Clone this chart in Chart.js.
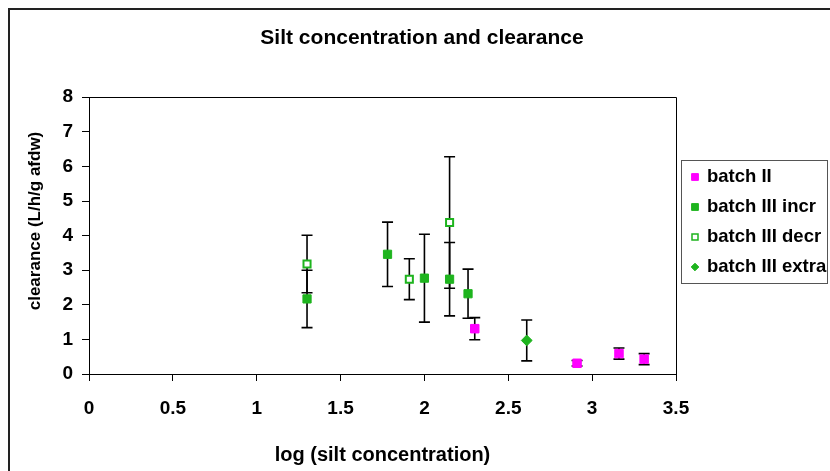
<!DOCTYPE html>
<html><head><meta charset="utf-8">
<script src="https://cdn.jsdelivr.net/npm/chart.js@4"></script>
<style>html,body{margin:0;padding:0;background:#fff;overflow:hidden}canvas{display:block}</style>
</head><body>
<canvas id="c" width="830" height="471"></canvas>
<script>
const chartTitle = 'Silt concentration and clearance';
const xAxisTitle = 'log (silt concentration)';
const yAxisTitle = 'clearance (L/h/g afdw)';
const seriesNames = ['batch II', 'batch III incr', 'batch III decr', 'batch III extra'];
const xTickLabels = ['0', '0.5', '1', '1.5', '2', '2.5', '3', '3.5'];
const yTickLabels = ['0', '1', '2', '3', '4', '5', '6', '7', '8'];

const batchII_x   = [2.30, 2.91, 3.16, 3.31];
const batchII_y   = [1.31, 0.31, 0.59, 0.43];
const batchII_err = [0.32, 0.08, 0.16, 0.16];

const incr_x   = [1.30, 1.78, 2.00, 2.15, 2.26];
const incr_y   = [2.17, 3.46, 2.77, 2.74, 2.32];
const incr_err = [0.83, 0.93, 1.27, 1.06, 0.71];

const decr_x   = [1.30, 1.91, 2.15];
const decr_y   = [3.18, 2.74, 4.38];
const decr_err = [0.83, 0.59, 1.90];

const extra_x   = [2.61];
const extra_y   = [0.97];
const extra_err = [0.59];

const MAGENTA = '#ff00ff';
const GREEN = '#1eb41e';
const FONT = "'Liberation Sans', Arial, sans-serif";

function pts(xs, ys, es) { return xs.map((x, i) => ({x: x, y: ys[i], err: es[i]})); }

const errorBars = {
  id: 'errorBars',
  beforeDatasetsDraw(chart) {
    const ctx = chart.ctx, xs = chart.scales.x, ys = chart.scales.y;
    ctx.save();
    ctx.strokeStyle = '#000';
    ctx.lineWidth = 1.6;
    chart.data.datasets.forEach(ds => {
      ds.data.forEach(p => {
        const px = xs.getPixelForValue(p.x);
        const t = ys.getPixelForValue(p.y + p.err);
        const b = ys.getPixelForValue(p.y - p.err);
        ctx.beginPath();
        ctx.moveTo(px, t); ctx.lineTo(px, b);
        ctx.moveTo(px - 5.5, t); ctx.lineTo(px + 5.5, t);
        ctx.moveTo(px - 5.5, b); ctx.lineTo(px + 5.5, b);
        ctx.stroke();
      });
    });
    ctx.restore();
  }
};

const background = {
  id: 'background',
  beforeDraw(chart) {
    const ctx = chart.ctx;
    ctx.save();
    ctx.fillStyle = '#fff';
    ctx.fillRect(0, 0, chart.width, chart.height);
    ctx.strokeStyle = '#222';
    ctx.lineWidth = 2;
    ctx.beginPath();
    ctx.moveTo(9, chart.height); ctx.lineTo(9, 9); ctx.lineTo(chart.width, 9);
    ctx.stroke();
    ctx.restore();
  }
};

function marker(ctx, style, x, y, r, fill, stroke, bw) {
  ctx.beginPath();
  if (style === 'rectRot') {
    ctx.moveTo(x, y - r); ctx.lineTo(x + r, y); ctx.lineTo(x, y + r); ctx.lineTo(x - r, y); ctx.closePath();
  } else {
    ctx.rect(x - r, y - r, 2 * r, 2 * r);
  }
  ctx.fillStyle = fill; ctx.fill();
  ctx.lineWidth = bw; ctx.strokeStyle = stroke; ctx.stroke();
}

const decorations = {
  id: 'decorations',
  afterDraw(chart) {
    const ctx = chart.ctx, a = chart.chartArea;
    ctx.save();
    // plot area frame (top & right)
    ctx.strokeStyle = '#000'; ctx.lineWidth = 1;
    ctx.beginPath();
    ctx.moveTo(Math.round(a.left) + 0.5, Math.round(a.top) + 0.5);
    ctx.lineTo(Math.round(a.right) + 0.5, Math.round(a.top) + 0.5);
    ctx.lineTo(Math.round(a.right) + 0.5, Math.round(a.bottom) + 0.5);
    ctx.stroke();
    // y axis title
    ctx.save();
    ctx.translate(35.5, 221);
    ctx.rotate(-Math.PI / 2);
    ctx.fillStyle = '#000';
    ctx.font = 'bold 17px ' + FONT;
    ctx.textAlign = 'center'; ctx.textBaseline = 'middle';
    ctx.fillText(yAxisTitle, 0, 0);
    ctx.restore();
    // legend
    const lx = 681, ly = 160, lw = 146, lh = 123;
    ctx.strokeStyle = '#555'; ctx.lineWidth = 1;
    ctx.strokeRect(lx + 0.5, ly + 0.5, lw, lh);
    ctx.save();
    ctx.beginPath(); ctx.rect(lx + 1, ly + 1, lw - 1, lh - 1); ctx.clip();
    ctx.font = 'bold 18.5px ' + FONT;
    ctx.textAlign = 'left'; ctx.textBaseline = 'middle';
    chart.data.datasets.forEach((ds, i) => {
      const cy = 177 + i * 30;
      const open = ds.backgroundColor === '#fff';
      const r = ds.pointStyle === 'rectRot' ? 3.8 : (open ? 3 : 3.4);
      marker(ctx, ds.pointStyle, 695, cy, r, ds.backgroundColor, ds.borderColor, open ? 1.5 : 1);
      ctx.fillStyle = '#000';
      ctx.fillText(ds.label, 707, cy);
    });
    ctx.restore();
    ctx.restore();
  }
};

new Chart(document.getElementById('c'), {
  type: 'scatter',
  data: {
    datasets: [
      {label: seriesNames[0], data: pts(batchII_x, batchII_y, batchII_err), pointStyle: 'rect', radius: 6, backgroundColor: MAGENTA, borderColor: MAGENTA, borderWidth: 1},
      {label: seriesNames[1], data: pts(incr_x, incr_y, incr_err), pointStyle: 'rect', radius: 5.8, backgroundColor: GREEN, borderColor: GREEN, borderWidth: 1},
      {label: seriesNames[2], data: pts(decr_x, decr_y, decr_err), pointStyle: 'rect', radius: 5, backgroundColor: '#fff', borderColor: GREEN, borderWidth: 2},
      {label: seriesNames[3], data: pts(extra_x, extra_y, extra_err), pointStyle: 'rectRot', radius: 5.4, backgroundColor: GREEN, borderColor: GREEN, borderWidth: 1}
    ]
  },
  options: {
    responsive: false,
    animation: false,
    devicePixelRatio: 1,
    events: [],
    layout: {padding: {left: 14, top: 0, right: 0, bottom: 0}},
    plugins: {
      legend: {display: false},
      tooltip: {enabled: false},
      title: {display: true, text: chartTitle, color: '#000', font: {family: FONT, size: 21, weight: 'bold'}, padding: {top: 26, bottom: 46}}
    },
    scales: {
      x: {
        type: 'linear', position: 'bottom', min: 0, max: 3.5,
        afterFit(s) { s.height = 97; },
        grid: {drawOnChartArea: false, drawTicks: true, tickLength: 7, color: '#000', lineWidth: 1},
        border: {display: true, color: '#000', width: 1},
        ticks: {stepSize: 0.5, maxRotation: 0, autoSkip: false, padding: 16, color: '#000', font: {family: FONT, size: 19, weight: 'bold'},
          callback: (v, i) => xTickLabels[i]},
        title: {display: true, text: xAxisTitle, color: '#000', font: {family: FONT, size: 20, weight: 'bold'}, padding: {top: 0, bottom: 4}}
      },
      y: {
        type: 'linear', position: 'left', min: 0, max: 8,
        afterFit(s) { s.width = 75; },
        grid: {drawOnChartArea: false, drawTicks: true, tickLength: 7, color: '#000', lineWidth: 1},
        border: {display: true, color: '#000', width: 1},
        ticks: {stepSize: 1, padding: 9, color: '#000', font: {family: FONT, size: 19, weight: 'bold'},
          callback: (v, i) => yTickLabels[i]}
      },
      yR: {
        type: 'linear', position: 'right', display: true,
        afterFit(s) { s.width = 154; },
        grid: {display: false, drawTicks: false},
        border: {display: false},
        ticks: {display: false}
      }
    }
  },
  plugins: [background, errorBars, decorations]
});
</script>
</body></html>
